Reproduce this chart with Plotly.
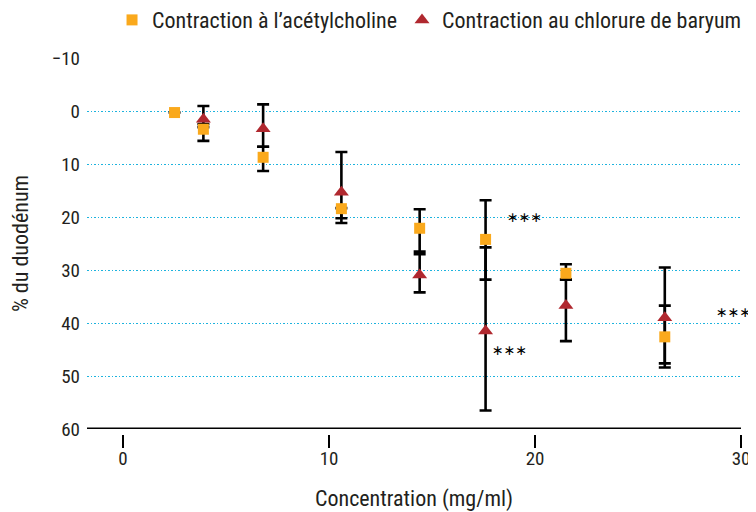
import plotly.graph_objects as go

# ---- data ----
conc = [2.5, 3.9, 6.8, 10.6, 14.4, 17.6, 21.5, 26.3]
ach_vals = [0.25, 3.4, 8.7, 18.4, 22.1, 24.2, 30.6, 42.6]
ach_err_plus = [None, 2.2, 2.6, 2.7, 4.4, 7.6, 1.2, 5.0]
ach_err_minus = [None, 1.0, 2.0, 0.1, 3.6, 7.4, 1.7, 5.9]

conc_ba = [3.9, 6.8, 10.6, 14.4, 17.6, 21.5, 26.3]
ba_vals = [1.5, 3.3, 15.3, 30.9, 41.5, 36.7, 39.0]
ba_err_plus = [1.5, 3.4, 4.9, 3.3, 15.0, 6.7, 9.4]
ba_err_minus = [2.5, 4.6, 7.6, 3.9, 15.8, 4.9, 9.5]

stars_x = [19.5, 18.75, 29.65]
stars_y = [19.9, 45.0, 38.0]

x_ticks = [0, 10, 20, 30]
y_ticks = [-10, 0, 10, 20, 30, 40, 50, 60]
y_ticktext = ["−10", "0", "10", "20", "30", "40", "50", "60"]

name_ach = "Contraction à l’acétylcholine"
name_ba = "Contraction au chlorure de baryum"

ORANGE = "#FAA91C"
RED = "#B0282F"
GRID = "#1DB3DE"
FONT = "Liberation Sans Narrow, Roboto Condensed, DejaVu Sans Condensed, Arial Narrow, sans-serif"

fig = go.Figure()

# error bars first (so markers sit on top of every bar)
for xs, ys, ep, em in [(conc_ba, ba_vals, ba_err_plus, ba_err_minus),
                       (conc, ach_vals, ach_err_plus, ach_err_minus)]:
    fig.add_trace(go.Scatter(
        x=xs, y=ys, mode="markers", showlegend=False, hoverinfo="skip",
        marker=dict(size=1, color="rgba(0,0,0,0)"),
        error_y=dict(type="data", symmetric=False, array=ep, arrayminus=em,
                     color="black", thickness=2.6, width=6),
    ))

fig.add_trace(go.Scatter(
    x=conc_ba, y=ba_vals, mode="markers", name=name_ba,
    marker=dict(symbol="triangle-up", size=13, color=RED),
))
fig.add_trace(go.Scatter(
    x=conc, y=ach_vals, mode="markers", name=name_ach,
    marker=dict(symbol="square", size=11, color=ORANGE),
))

for sx, sy in zip(stars_x, stars_y):
    fig.add_annotation(x=sx, y=sy, text="∗∗∗", showarrow=False,
                       font=dict(family="DejaVu Sans", size=14, color="black"),
                       xanchor="center", yanchor="middle")

# bottom axis line at y=60
fig.add_shape(type="line", xref="paper", yref="y", x0=0, x1=1, y0=60, y1=60,
              line=dict(color="black", width=3))

# the page body adds an 8px offset, so the figure is 8px smaller
fig.update_layout(
    width=748, height=504,
    margin=dict(l=79, r=15, t=50, b=78),
    paper_bgcolor="white", plot_bgcolor="white",
    font=dict(family=FONT, size=18, color="#231F20"),
    showlegend=True,
    legend=dict(orientation="h", x=0.988, xref="container", xanchor="right",
                y=0.976, yref="container", yanchor="middle",
                traceorder="reversed",
                font=dict(family=FONT, size=22, color="#231F20"),
                itemwidth=30, bgcolor="rgba(0,0,0,0)"),
    xaxis=dict(range=[-1.75, 30], tickvals=x_ticks, ticks="outside", ticklen=13,
               tickwidth=2, tickcolor="black", showgrid=False, zeroline=False,
               showline=False, anchor="free", position=0, automargin=False,
               ticklabelstandoff=-6,
               title=dict(text="Concentration (mg/ml)", standoff=26),
               tickfont=dict(size=19)),
    yaxis=dict(range=[60, -10.05], autorange=False, domain=[0.0133, 1],
               tickvals=y_ticks, ticktext=y_ticktext, showgrid=True,
               gridcolor=GRID, griddash="1.5px,2px", automargin=False,
               gridwidth=1.2, zeroline=False, showline=False, ticks="",
               ticklabelstandoff=6, tickfont=dict(size=19),
               title=dict(text="% du duodénum", standoff=18)),
)

fig.write_html("out.html")
